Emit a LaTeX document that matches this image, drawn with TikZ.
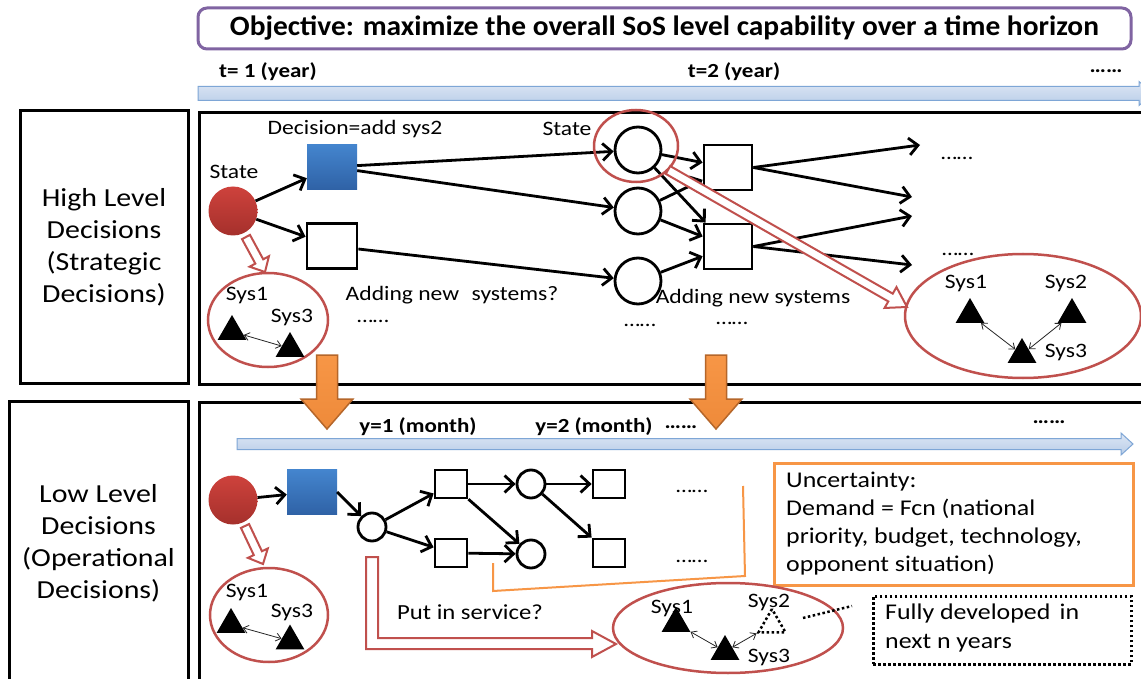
\documentclass[tikz,border=0pt]{standalone}
\usepackage{fontspec}
\setmainfont{Carlito}[FakeStretch=1.15]
\newfontfamily\titlefont{Carlito}[FakeStretch=1.05]
\usetikzlibrary{arrows.meta,calc,shapes.geometric}
\definecolor{sosred}{HTML}{C0504D}
\definecolor{redtop}{HTML}{CE423C}
\definecolor{redbot}{HTML}{A5302C}
\definecolor{bluetop}{HTML}{4485CE}
\definecolor{bluebot}{HTML}{2F62A6}
\definecolor{sosorange}{HTML}{F79646}
\definecolor{orangebot}{HTML}{EE8A3A}
\definecolor{sosorangedk}{HTML}{B5662A}
\definecolor{sospurple}{HTML}{8064A2}
\definecolor{bartop}{HTML}{DCE6F4}
\definecolor{barbot}{HTML}{B9CDE8}
\definecolor{barline}{HTML}{7EA6D6}
\newcommand\fsz[2]{\fontsize{#1}{#2}\selectfont}
% block arrow: [style]{from}{to}{shaft half}{head half}{head length}
\newcommand\blockarrow[6][]{%
  \coordinate (bah) at ($(#3)!#6!(#2)$);
  \path[#1] ($(#2)!#4!90:(#3)$) -- ($(bah)!#4!-90:(#2)$) -- ($(bah)!#5!-90:(#2)$) -- (#3)
    -- ($(bah)!#5!90:(#2)$) -- ($(bah)!#4!90:(#2)$) -- ($(#2)!#4!-90:(#3)$) -- cycle;}
\begin{document}
\begin{tikzpicture}[x=1pt,y=-1pt,
  lbl/.style={font=\fsz{20.5}{24}, inner sep=0pt},
  tlbl/.style={font=\bfseries\fsz{20}{24}, inner sep=0pt},
  sidebox/.style={draw=black, line width=3pt, align=center, font=\fsz{26}{32}, inner sep=0pt},
  mainbox/.style={draw=black, line width=3pt, anchor=north west, inner sep=0pt},
  redstate/.style={circle, inner sep=0pt, minimum size=49pt, top color=redtop, bottom color=redbot, draw=none},
  bluedec/.style={rectangle, inner sep=0pt, minimum width=50pt, minimum height=45pt, top color=bluetop, bottom color=bluebot, draw=none},
  wsq/.style={draw=black, line width=2.8pt, fill=white, inner sep=0pt, minimum width=48pt, minimum height=45pt},
  wcirc/.style={draw=black, line width=2.8pt, fill=white, circle, inner sep=0pt, minimum size=46pt},
  ssq/.style={draw=black, line width=2.8pt, fill=white, inner sep=0pt, minimum width=32pt, minimum height=28pt},
  scirc/.style={draw=black, line width=2.8pt, fill=white, circle, inner sep=0pt, minimum size=28pt},
  flow/.style={line width=2.8pt, -{Straight Barb[length=9pt,width=17pt]}},
  tri/.style={regular polygon, regular polygon sides=3, fill=black, inner sep=0pt, minimum size=33pt},
  dtri/.style={regular polygon, regular polygon sides=3, draw=black, line width=2.5pt, dash pattern=on 2.5pt off 2.5pt, inner sep=0pt, minimum size=31pt},
  link/.style={line width=0.8pt, draw=black!85, {Straight Barb[length=5pt,width=8pt]}-{Straight Barb[length=5pt,width=8pt]}},
  sysring/.style={draw=sosred, line width=2.5pt, ellipse, inner sep=0pt},
  hollow/.style={draw=sosred, line width=2pt, fill=white},
  oarrow/.style={draw=sosorangedk, line width=1.5pt, top color=sosorange, bottom color=orangebot},
  tbar/.style={draw=barline, line width=1pt, top color=bartop, bottom color=barbot},
  dots/.style={font=\fsz{20}{24}, inner sep=0pt}
]
\useasboundingbox (0,0) rectangle (1141,679);
\fill[white] (0,0) rectangle (1141,679);

% ---------- title and year timeline ----------
\node[draw=sospurple, line width=3pt, rounded corners=9pt, minimum width=933pt, minimum height=41pt, inner sep=0pt,
      font=\titlefont\bfseries\fsz{28}{32}] (title) at (664.5,28.5) {Objective: maximize the overall SoS level capability over a time horizon};
\node[tlbl] (t1) at (268,72) {t= 1 (year)};
\node[tlbl] (t2) at (734,72) {t=2 (year)};
\node[tlbl] (t3) at (1106,71) {……};
\coordinate (tls) at (198,93.5);
\coordinate (tle) at (1153,93.5);
\blockarrow[tbar]{tls}{tle}{7pt}{12pt}{14pt}

% ---------- frames ----------
\node[sidebox, minimum width=168pt, minimum height=272pt] (hlbox) at (104,247) {High Level\\Decisions\\(Strategic\\Decisions)};
\node[sidebox, minimum width=179pt, minimum height=284pt] (llbox) at (98.5,543) {Low Level\\Decisions\\(Operational\\Decisions)};
\node[mainbox, minimum width=955pt, minimum height=272pt] (hmain) at (198,111) {};
\node[mainbox, minimum width=955pt, minimum height=284pt] (lmain) at (198,401) {};

% ---------- high level network ----------
\node[redstate] (hs) at (233,211) {};
\node[lbl] (hslbl) at (234,172) {State};
\node[bluedec] (hd) at (332,167) {};
\node[lbl] (hdlbl) at (355,129) {Decision=add sys2};
\node[wsq, minimum width=50pt] (hn) at (332,246) {};
\node[wcirc] (c1) at (638,150) {};
\node[wcirc] (c2) at (638,211) {};
\node[wcirc] (c3) at (638,281) {};
\node[lbl] (c1lbl) at (567,129) {State};
\node[wsq] (s1) at (728,167.5) {};
\node[wsq] (s2) at (728,246.5) {};
\coordinate (o1) at (920,145);
\coordinate (o2) at (912,197);
\coordinate (o3) at (912,216);
\coordinate (o4) at (912,265);
\draw[flow] (hs) -- (hd);
\draw[flow] (hs) -- (hn);
\draw[flow] (hd) -- (c1);
\draw[flow] (hd) -- (c2);
\draw[flow] (hn) -- (c3);
\draw[flow] (c1) -- (s1);
\draw[flow] (c1) -- (s2);
\draw[flow] (c2) -- (s1);
\draw[flow] (c2) -- (s2);
\draw[flow] (c3) -- (s2);
\draw[flow] (s1.east) -- (o1);
\draw[flow] (s1.east) -- (o2);
\draw[flow] (s2.east) -- (o3);
\draw[flow] (s2.east) -- (o4);
\node[dots] (hd1) at (957,158) {……};
\node[dots] (hd2) at (958,254) {……};
\node[lbl] (addq) at (452,295) {Adding new\hspace{0.35em} systems?};
\node[dots] (hd3) at (373,321) {……};
\node[lbl] (add) at (753,298) {Adding new systems};
\node[dots] (hd4) at (640,325) {……};
\node[dots] (hd5) at (732,323) {……};

% state ring around c1
\node[sysring, minimum width=84pt, minimum height=72pt] (c1ring) at (636,146) {};

% high-level systems (left)
\node[sysring, minimum width=120pt, minimum height=94pt] (hring1) at (268,320) {};
\node[lbl] (hr1a) at (247,295) {Sys1};
\node[lbl] (hr1b) at (292,317) {Sys3};
\node[tri] (hA) at (232,331.5) {};
\node[tri] (hC) at (290,348.5) {};
\draw[link] (hA) -- (hC);
\coordinate (ha1) at (246,237);
\coordinate (ha2) at (265,272);
\blockarrow[hollow]{ha1}{ha2}{4.5pt}{11pt}{12pt}

% high-level systems (right)
\node[sysring, minimum width=236pt, minimum height=124pt] (hring2) at (1023,316) {};
\node[lbl] (hr2a) at (966,283) {Sys1};
\node[lbl] (hr2b) at (1066,283) {Sys2};
\node[lbl] (hr2c) at (1066,352) {Sys3};
\node[tri] (rA) at (970,314.5) {};
\node[tri] (rB) at (1072,314.5) {};
\node[tri] (rC) at (1022,354.5) {};
\draw[link] (rA) -- (rC);
\draw[link] (rC) -- (rB);
\coordinate (hb1) at (668,170);
\coordinate (hb2) at (907,307);
\blockarrow[hollow]{hb1}{hb2}{4.5pt}{12pt}{19pt}

% ---------- month timeline ----------
\coordinate (lls) at (237,444);
\coordinate (lle) at (1133,444);
\blockarrow[tbar]{lls}{lle}{5.5pt}{11pt}{12pt}
\node[tlbl] (y1) at (418,427) {y=1 (month)};
\node[tlbl] (y2) at (594,427) {y=2 (month)};
\node[tlbl] (y3) at (681,427) {……};
\node[tlbl] (y4) at (1049,422) {……};

% ---------- low level network ----------
\node[redstate] (ls) at (233,500) {};
\node[bluedec] (ld) at (312,492) {};
\node[scirc] (sc) at (372,527) {};
\node[ssq] (qa) at (451,484) {};
\node[ssq] (qb) at (451,553) {};
\node[scirc] (ca) at (531,484) {};
\node[scirc] (cb) at (531,554) {};
\node[ssq] (qc) at (609,484) {};
\node[ssq] (qd) at (609,553) {};
\draw[flow] (ls) -- (ld);
\draw[flow] (ld.east) -- (sc);
\draw[flow] (sc) -- (qa);
\draw[flow] (sc) -- (qb);
\draw[flow] (qa) -- (ca);
\draw[flow] (qa) -- (cb);
\draw[flow] (qb) -- (cb);
\draw[flow] (ca) -- (qc);
\draw[flow] (ca) -- (qd);
\node[dots] (ld1) at (692,491) {……};
\node[dots] (ld2) at (692,561) {……};

% uncertainty bracket and box
\coordinate (ob1) at (493,563);
\coordinate (ob2) at (493,591);
\coordinate (ob3) at (745,576);
\coordinate (ob4) at (743,486);
\draw[sosorange, line width=2pt] (ob1) -- (ob2) -- (ob3) -- (ob4);
\node[draw=sosorange, line width=2.5pt, anchor=north west, minimum width=359pt, minimum height=122pt, inner sep=0pt] (unc) at (773,462) {};
\node[anchor=west, align=left, inner sep=0pt, font=\fsz{22.5}{28}] (unctext) at (786,523.5) {Uncertainty:\\Demand = Fcn (national\\priority, budget, technology,\\opponent situation)};

% low-level systems (left)
\node[sysring, minimum width=118pt, minimum height=94pt] (lring1) at (269,615) {};
\node[lbl] (lr1a) at (247,592) {Sys1};
\node[lbl] (lr1b) at (292,612) {Sys3};
\node[tri] (lA) at (231,624.5) {};
\node[tri] (lC) at (290,641) {};
\draw[link] (lA) -- (lC);
\coordinate (la1) at (245,526);
\coordinate (la2) at (263,564);
\blockarrow[hollow]{la1}{la2}{4.5pt}{11pt}{12pt}

% low-level systems (right)
\node[sysring, minimum width=230pt, minimum height=90pt] (lring2) at (728,628) {};
\node[lbl] (lr2a) at (672,608) {Sys1};
\node[lbl] (lr2b) at (769,602) {Sys2};
\node[lbl] (lr2c) at (769,657) {Sys3};
\node[tri] (mA) at (676,623.5) {};
\node[tri] (mC) at (725,651.5) {};
\node[dtri] (mB) at (772,624.5) {};
\draw[link] (mA) -- (mC);
\draw[link] (mC) -- (mB);

% put in service arrow
\draw[hollow] (366,557) -- (378,557) -- (378,638) -- (592,638) -- (592,631) -- (616,644) -- (592,657) -- (592,649) -- (366,649) -- cycle;
\node[lbl, font=\fsz{21.5}{25}] (pis) at (470,612) {Put in service?};

% fully developed
\node[draw=black, line width=2.5pt, dash pattern=on 2.5pt off 2.5pt, anchor=north west, minimum width=258pt, minimum height=68pt, inner sep=0pt] (fd) at (872,595) {};
\node[anchor=west, align=left, inner sep=0pt, font=\fsz{22.5}{29}] (fdtext) at (885,627.5) {Fully developed\hspace{0.15em} in\\next n years};
\coordinate (dl1) at (803,618);
\coordinate (dl2) at (852,606);
\draw[line width=2.5pt, dash pattern=on 2.5pt off 2.5pt] (dl1) -- (dl2);

% ---------- orange transfer arrows ----------
\coordinate (oa1) at (327,355);
\coordinate (oa2) at (327,429);
\blockarrow[oarrow]{oa1}{oa2}{10.5pt}{26pt}{30pt}
\coordinate (ob5) at (716,355);
\coordinate (ob6) at (716,429);
\blockarrow[oarrow]{ob5}{ob6}{10.5pt}{26pt}{30pt}
\end{tikzpicture}
\end{document}
